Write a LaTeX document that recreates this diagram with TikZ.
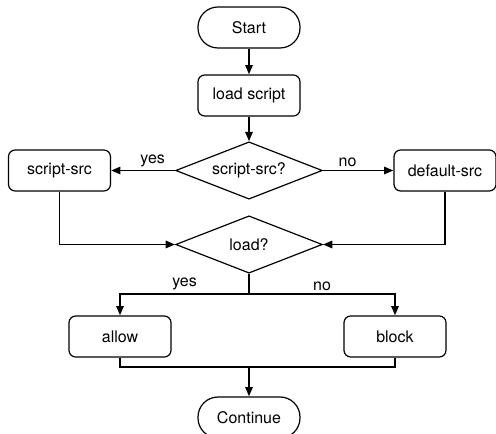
\documentclass[tikz,border=0pt]{standalone}
\usepackage{fontspec}
\setmainfont{TeX Gyre Heros}
\usepackage{tikz}
\usetikzlibrary{shapes.geometric,arrows.meta}

\begin{document}
\begin{tikzpicture}[x=0.75pt,y=-0.75pt,font=\fontsize{12}{14}\selectfont,
  proc/.style={draw,line width=0.9pt,rounded corners=5pt,minimum width=76.5pt,minimum height=30.75pt},
  terminal/.style={proc,rounded corners=15pt},
  decide/.style={draw,diamond,shape aspect=2.56,line width=0.9pt,inner sep=0pt,minimum width=110pt,minimum height=43pt},
  flow/.style={line width=1.4pt,-{Triangle[length=7pt,width=5.5pt]}},
  lbl/.style={inner sep=2pt}]
\useasboundingbox (0,0) rectangle (496,434);

\node[terminal] (start) at (249,27.5) {Start};
\node[proc] (load) at (249,95.5) {load script};
\node[decide] (srcq) at (249,170.5) {script-src?};
\node[proc] (scriptsrc) at (59.5,170.5) {script-src};
\node[proc] (defsrc) at (445,170.5) {default-src};
\node[decide] (loadq) at (249,244.5) {load?};
\node[proc] (allow) at (120,336.5) {allow};
\node[proc] (block) at (395,336.5) {block};
\node[terminal] (cont) at (249,417.5) {Continue};
\coordinate (split) at (249,294);
\coordinate (join) at (249,367);

\draw[flow] (start) -- (load);
\draw[flow] (load) -- (srcq);
\draw[flow] (srcq) -- node[lbl,pos=0.35,above]{yes} (scriptsrc);
\draw[flow] (srcq) -- node[lbl,pos=0.35,above]{no} (defsrc);
\draw[flow] (scriptsrc.south) |- (loadq.west);
\draw[flow] (defsrc.south) |- (loadq.east);

% branches of load?
\draw[line width=1.4pt] (loadq.south) -- (split);
\draw[flow] (split) -| node[lbl,pos=0.25,above]{yes} (allow.north);
\draw[flow] (split) -| node[lbl,pos=0.25,above]{no} (block.north);
\draw[line width=1.4pt] (allow.south) |- (join) -| (block.south);
\draw[flow] (join) -- (cont);
\end{tikzpicture}
\end{document}
